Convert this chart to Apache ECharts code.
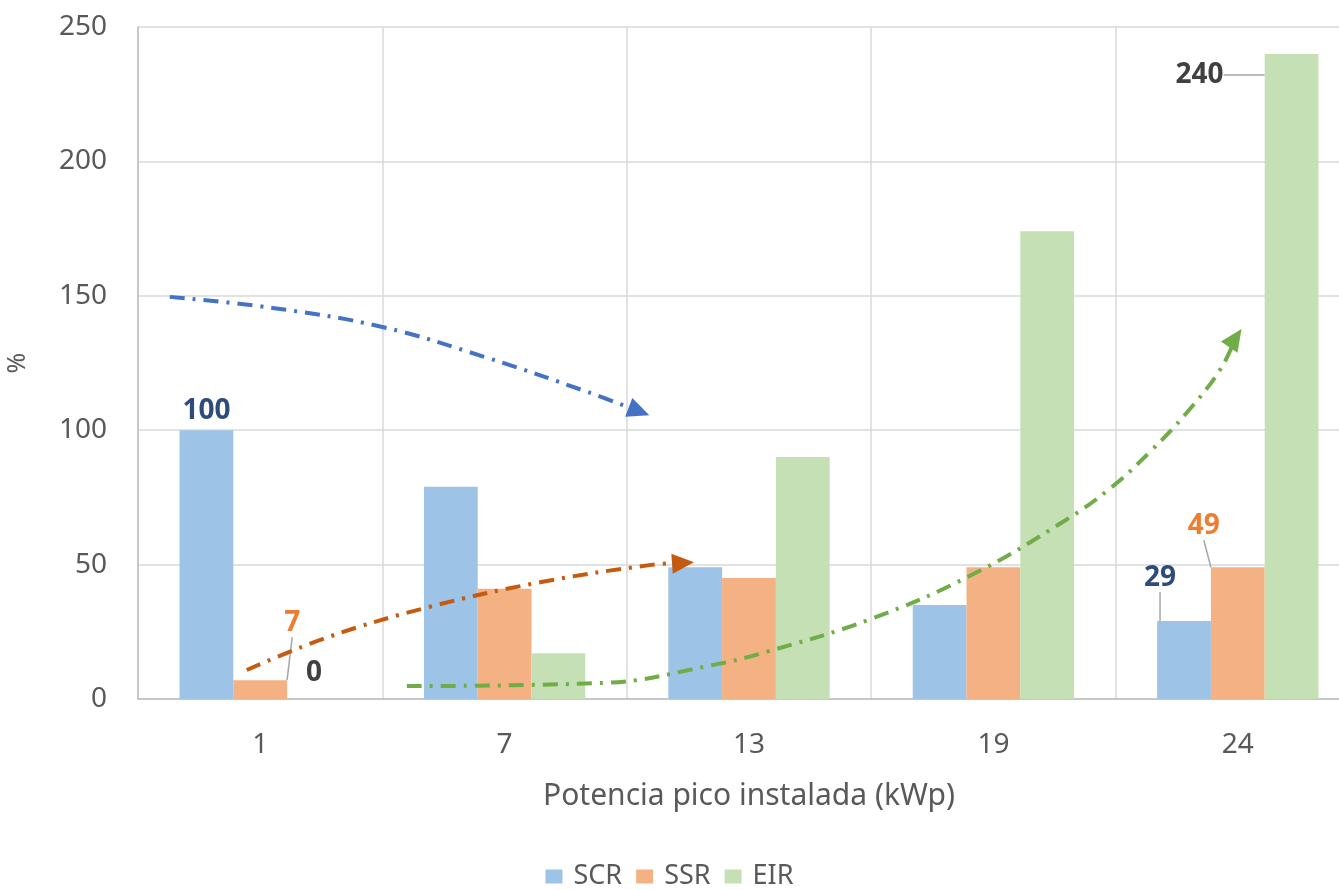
<!DOCTYPE html>
<html>
<head>
<meta charset="utf-8">
<script src="https://cdn.jsdelivr.net/npm/echarts@6/dist/echarts.min.js"></script>
<style>
html,body{margin:0;padding:0;background:#fff;overflow:hidden;}
#c{width:1339px;height:890px;}
</style>
</head>
<body>
<div id="c"></div>
<script>
// ---- data ----
const categories = ['1', '7', '13', '19', '24'];
const seriesNames = ['SCR', 'SSR', 'EIR'];
const scr = [100, 79, 49, 35, 29];
const ssr = [7, 41, 45, 49, 49];
const eir = [0, 17, 90, 174, 240];
const yTicks = [0, 50, 100, 150, 200, 250];

// trend arrows (x in category-band units, y in %)
const blueArrowX = [0.13, 0.55, 1.0, 1.42, 1.84, 2.05];
const blueArrowY = [149.6, 145.5, 138.4, 127.2, 114.2, 107.0];
const orangeArrowX = [0.445, 0.78, 1.19, 1.65, 2.10, 2.23];
const orangeArrowY = [10.8, 23.1, 34.2, 43.5, 49.9, 50.6];
const greenArrowX = [1.10, 1.91, 2.35, 2.57, 3.0, 3.41, 3.79, 3.98, 4.14, 4.29, 4.43, 4.49];
const greenArrowY = [4.8, 6.0, 12.6, 17.5, 29.8, 46.1, 66.2, 78.5, 91.9, 106.4, 122.8, 134.3];

// ---- styling ----
const FONT = 'Noto Sans';
const colors = { SCR: '#9dc3e6', SSR: '#f4b183', EIR: '#c5e0b4' };
const arrowColors = { blue: '#4472c4', orange: '#c55a11', green: '#70ad47' };
const lblBlue = '#2f4b7c', lblOrange = '#ed7d31', lblDark = '#404040';

function lbl(color, extra) {
  return Object.assign({ show: true, position: 'top', color: color, fontWeight: 'bold',
    fontSize: 28, fontFamily: FONT }, extra || {});
}

const scrData = scr.map((v, i) => {
  if (i === 0) return { value: v, label: lbl(lblBlue, { distance: 5 }) };
  if (i === 4) return { value: v, label: lbl(lblBlue), labelLine: { show: true } };
  return v;
});
const ssrData = ssr.map((v, i) => {
  if (i === 0 || i === 4) return { value: v, label: lbl(lblOrange), labelLine: { show: true } };
  return v;
});
const eirData = eir.map((v, i) => {
  if (i === 0) return { value: v, label: lbl(lblDark, { distance: 12 }) };
  if (i === 4) return { value: v, label: lbl(lblDark), labelLine: { show: true } };
  return v;
});

const moves = {
  SCR: { 4: { dx: -24, dy: -24 } },
  SSR: { 0: { dx: 32, dy: -38 }, 4: { dx: -34, dy: -22 } },
  EIR: { 4: { dx: -92, dy: 40 } }
};

function barSeries(name, data) {
  return {
    name: name, type: 'bar', data: data, barGap: '0%', barCategoryGap: '34%',
    itemStyle: { color: colors[name] },
    label: { show: false },
    labelLine: { show: false, lineStyle: { color: '#a6a6a6', width: 1.5 } },
    labelLayout: function (p) { return (moves[name] && moves[name][p.dataIndex]) || {}; },
    emphasis: { disabled: true }
  };
}

function arrowSeries(xs, ys, color, rotate) {
  const data = xs.map((x, i) => {
    if (i === xs.length - 1) {
      return { value: [x, ys[i]], symbol: 'triangle', symbolSize: [20, 22], symbolRotate: rotate,
        itemStyle: { color: color } };
    }
    return { value: [x, ys[i]], symbol: 'none' };
  });
  return {
    type: 'line', xAxisIndex: 1, yAxisIndex: 0, data: data, smooth: 0.4,
    showSymbol: true, z: 5, silent: true,
    lineStyle: { color: color, width: 4, type: [15, 8, 3, 8] },
    itemStyle: { color: color }
  };
}

const chart = echarts.init(document.getElementById('c'), null, { renderer: 'canvas' });
chart.setOption({
  animation: false,
  textStyle: { fontFamily: FONT },
  grid: { left: 138, width: 1222, top: 27, height: 672, containLabel: false, outerBoundsMode: 'none' },
  legend: {
    data: seriesNames, top: 858, left: 'center', icon: 'rect', itemWidth: 17, itemHeight: 14,
    itemGap: 14, textStyle: { fontSize: 27, color: '#595959', fontFamily: FONT, padding: [0, 0, 0, 6] }
  },
  xAxis: [
    {
      type: 'category', data: categories,
      name: 'Potencia pico instalada (kWp)', nameLocation: 'middle', nameGap: 82,
      nameTextStyle: { fontSize: 30, color: '#595959', fontFamily: FONT },
      axisLine: { show: true, lineStyle: { color: '#bfbfbf', width: 1.5 } },
      axisTick: { show: false },
      axisLabel: { fontSize: 28, color: '#595959', margin: 32, fontFamily: FONT },
      splitLine: { show: true, lineStyle: { color: '#d9d9d9', width: 1.5 } }
    },
    { type: 'value', min: 0, max: 5, show: false, position: 'bottom' }
  ],
  yAxis: {
    type: 'value', min: yTicks[0], max: yTicks[yTicks.length - 1], interval: 50,
    name: '%', nameLocation: 'middle', nameGap: 108, nameRotate: 90,
    nameTextStyle: { fontSize: 25, color: '#595959', fontFamily: FONT },
    axisLine: { show: true, lineStyle: { color: '#bfbfbf', width: 1.5 } },
    axisTick: { show: false },
    axisLabel: { fontSize: 28, color: '#595959', margin: 31, fontFamily: FONT },
    splitLine: { show: true, lineStyle: { color: '#d9d9d9', width: 1.5 } }
  },
  series: [
    barSeries('SCR', scrData),
    barSeries('SSR', ssrData),
    barSeries('EIR', eirData),
    arrowSeries(blueArrowX, blueArrowY, arrowColors.blue, -111),
    arrowSeries(orangeArrowX, orangeArrowY, arrowColors.orange, -86),
    arrowSeries(greenArrowX, greenArrowY, arrowColors.green, -34)
  ]
});
</script>
</body>
</html>
